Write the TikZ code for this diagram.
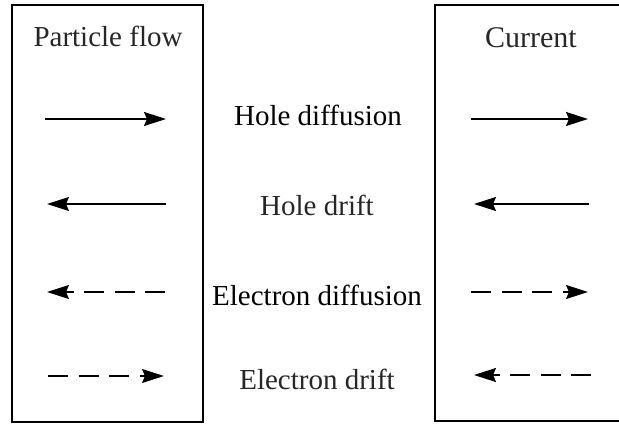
\documentclass[tikz,border=0pt]{standalone}
\usepackage{fontspec}
\setmainfont{Liberation Serif}
\usetikzlibrary{arrows.meta}
\begin{document}
\begin{tikzpicture}[x=1pt,y=-1pt,
  panel/.style={draw, line width=2pt, inner sep=0pt},
  lbl/.style={font=\fontsize{29}{32}\selectfont, inner sep=0pt, anchor=center},
  flow/.style={line width=1.5pt, -{Stealth[length=22pt,width=14pt,inset=3pt]}},
  dsh/.style={dash pattern=on 20pt off 10.5pt}]
\useasboundingbox (0,0) rectangle (619,425);
\node[panel, minimum width=191pt, minimum height=417pt] (L) at (107.5,213.5) {};
\node[panel, minimum width=200pt, minimum height=416pt] (R) at (535,213) {};
\node[lbl, text=black!85] (tl) at (108,36) {Particle flow};
\node[lbl, text=black!85, font=\fontsize{30}{32}\selectfont] (tr) at (531,38) {Current};
\node[lbl] (m1) at (318,115) {Hole diffusion};
\node[lbl, text=black!85] (m2) at (317,205) {Hole drift};
\node[lbl] (m3) at (317,295) {Electron diffusion};
\node[lbl, text=black!85] (m4) at (317,379) {Electron drift};
% arrow end points
\coordinate (a1s) at (45,119); \coordinate (a1e) at (166,119);
\coordinate (a2s) at (166,204); \coordinate (a2e) at (47,204);
\coordinate (a3s) at (165,292); \coordinate (a3e) at (47,292);
\coordinate (a4s) at (48,376); \coordinate (a4e) at (164,376);
\coordinate (b1s) at (471,119); \coordinate (b1e) at (588,119);
\coordinate (b2s) at (589,204); \coordinate (b2e) at (474,204);
\coordinate (b3s) at (471,292); \coordinate (b3e) at (588,292);
\coordinate (b4s) at (591,375); \coordinate (b4e) at (474,375);
\draw[flow] (a1s) -- (a1e);
\draw[flow] (a2s) -- (a2e);
\draw[flow, dsh] (a3s) -- (a3e);
\draw[flow, dsh, line width=1.2pt] (a4s) -- (a4e);
\draw[flow, line width=1.8pt] (b1s) -- (b1e);
\draw[flow, line width=1.8pt] (b2s) -- (b2e);
\draw[flow, dsh] (b3s) -- (b3e);
\draw[flow, dsh] (b4s) -- (b4e);
\end{tikzpicture}
\end{document}
